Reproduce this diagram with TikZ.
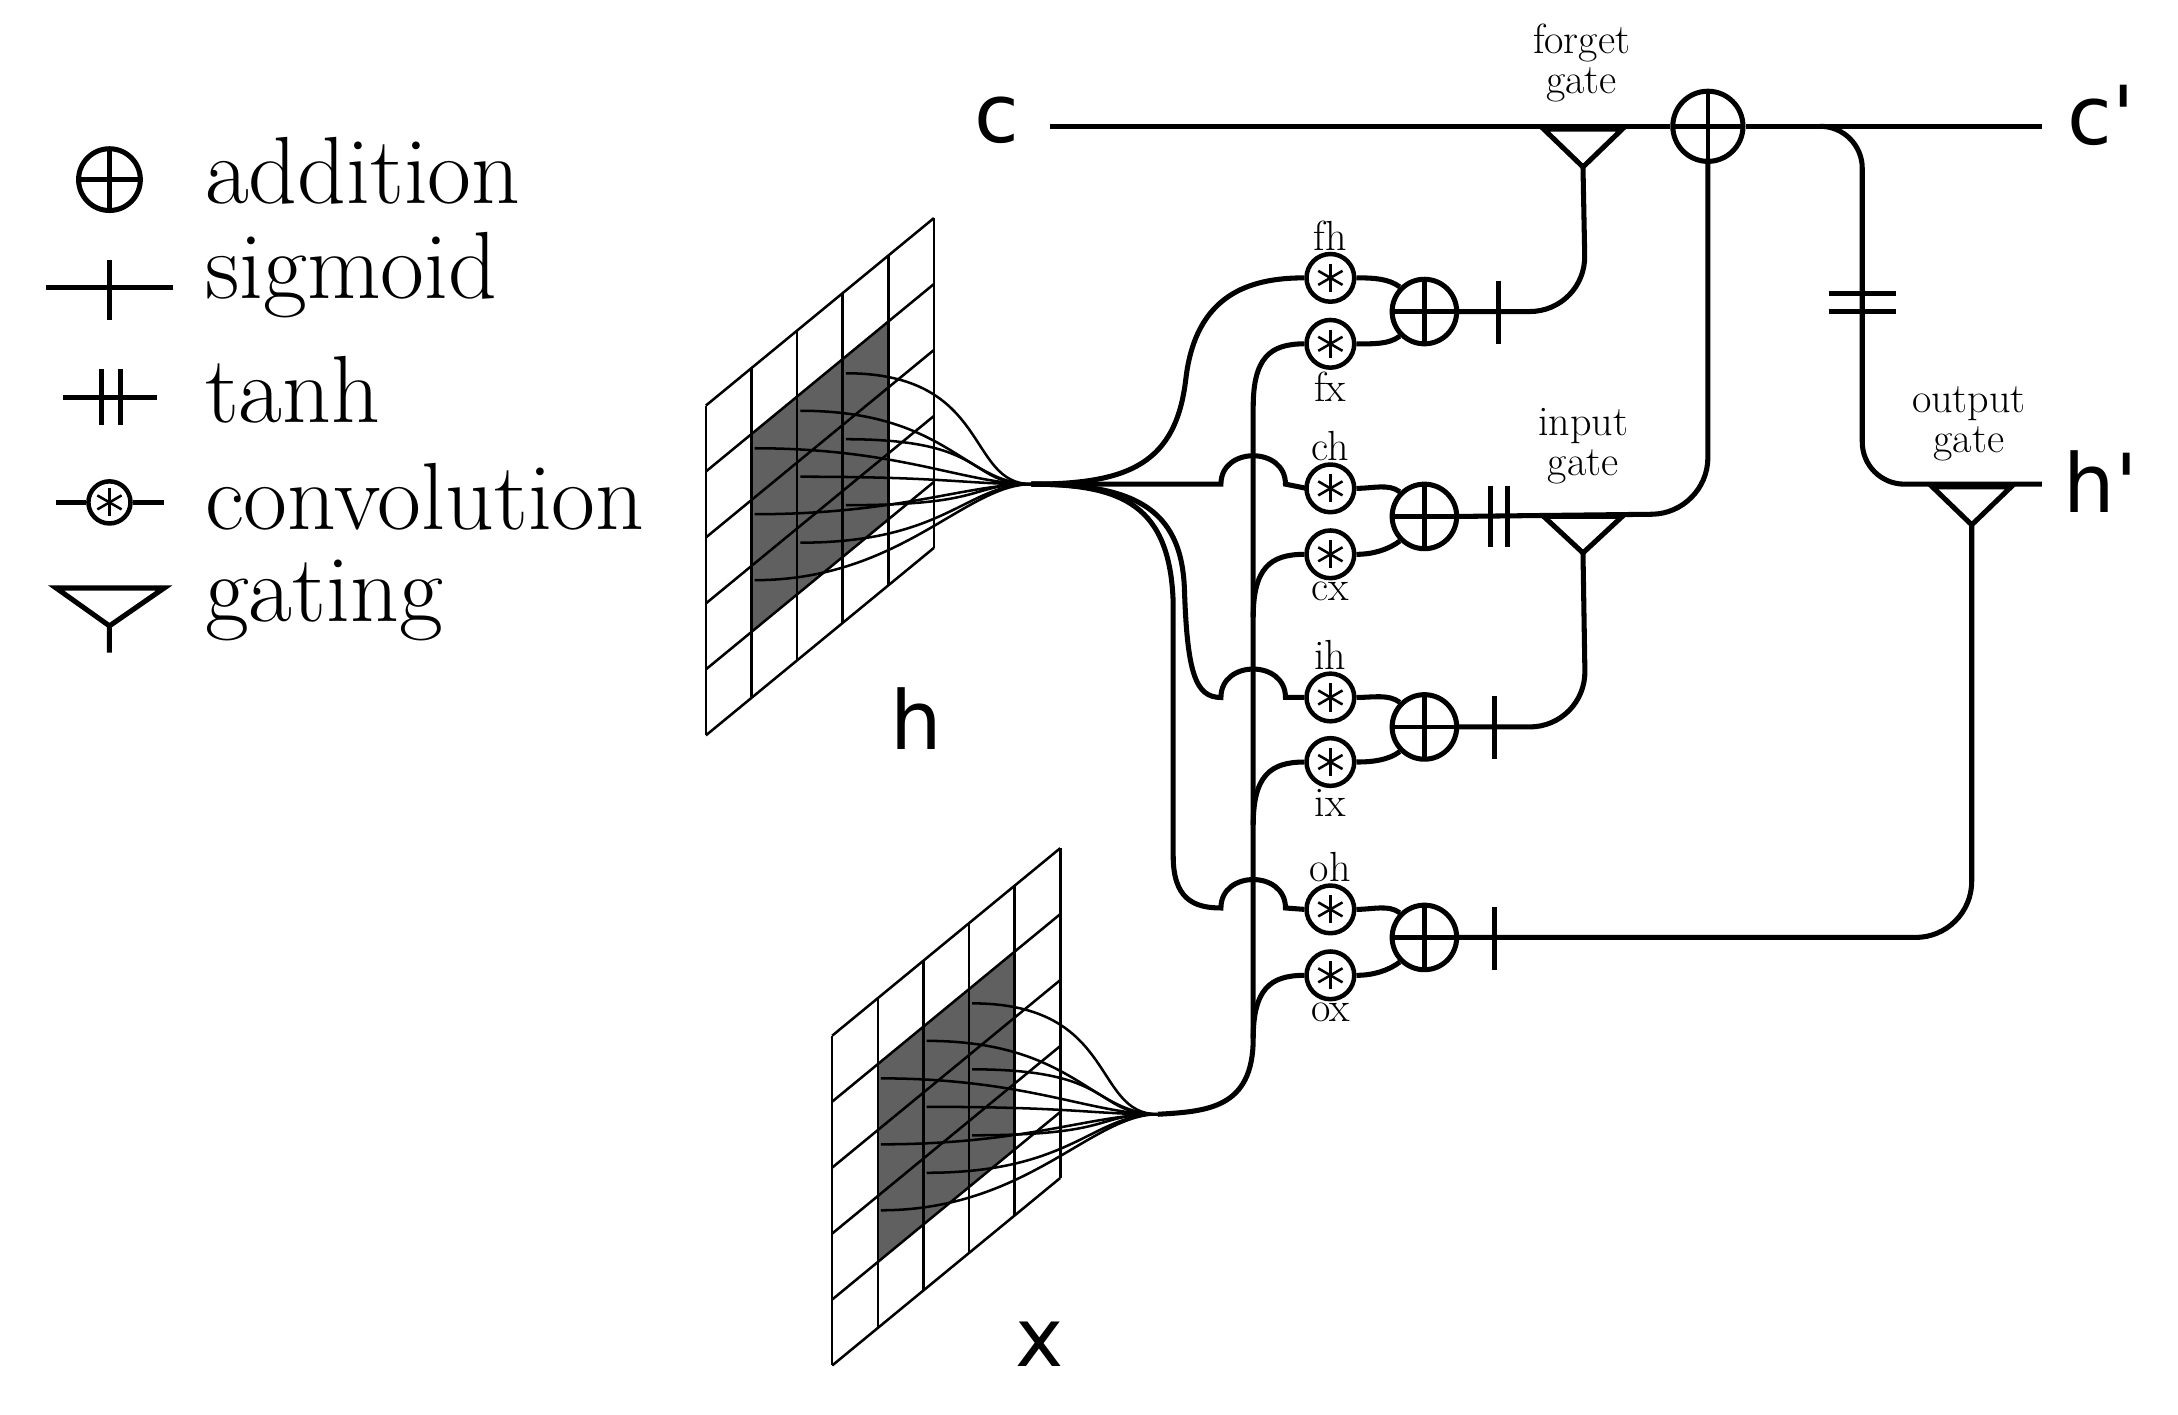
\documentclass[tikz,border=0pt]{standalone}
\usepackage{fontspec}
\newfontfamily\sansf{DejaVu Sans}
\begin{document}
\begin{tikzpicture}[x=1pt,y=-1pt,
  wire/.style={line width=3.6pt},
  thin/.style={line width=1.8pt},
  addn/.style={circle,draw,line width=3.6pt,minimum size=46pt,inner sep=0pt,
    path picture={\draw[line width=3.4pt] (path picture bounding box.north)--(path picture bounding box.south)
      (path picture bounding box.west)--(path picture bounding box.east);}},
  bigadd/.style={addn,minimum size=50pt},
  conv/.style={circle,draw,line width=3.2pt,minimum size=34pt,inner sep=0pt,
    path picture={\foreach \a in {90,30,-30}{\draw[line width=1.8pt] ([shift={(\a:10pt)}]path picture bounding box.center)--([shift={(\a+180:10pt)}]path picture bounding box.center);}}},
  lbl/.style={font=\fontsize{30}{31}\selectfont,inner sep=1pt,align=center},
  big/.style={font=\sansf\fontsize{58}{60}\selectfont,inner sep=0pt},
  leg/.style={font=\fontsize{68}{70}\selectfont,inner sep=0pt,anchor=west},
  sig/.style={line width=3.6pt}]
\useasboundingbox (0,0) rectangle (1552,1008);

% ---------- legend ----------
\node[addn,minimum size=44pt] (la) at (78,128) {};
\node[leg] (lta) at (146,122) {addition};
\draw[wire] (33,205)--(123,205) (78,185)--(78,228);
\node[leg] (lts) at (146,196) {sigmoid};
\draw[wire] (45,283)--(112,283) (72,263)--(72,303) (86,263)--(86,303);
\node[leg] (ltt) at (146,278) {tanh};
\node[conv,minimum size=30pt] (lc) at (78,358) {};
\draw[wire] (40,358)--(lc) (lc)--(117,358);
\node[leg] (ltc) at (146,354) {convolution};
\draw[wire] (40,419)--(117,419)--(78,446)--cycle (78,446)--(78,465);
\node[leg] (ltg) at (146,428) {gating};

% ---------- grids ----------
\foreach \gx/\gy/\cn in {503/289/hc, 593/738/xc}{
 \begin{scope}[shift={(\gx,\gy)}]
  \fill[gray!75!black] (32.5,47-26.7)--(130,47-106.9)--(130,188-106.9)--(32.5,188-26.7)--cycle;
  \foreach \k in {0,...,5}{
    \draw[thin] (32.5*\k,-26.72*\k)--(32.5*\k,235-26.72*\k);}
  \foreach \j in {0,...,5}{
    \draw[thin] (0,47*\j)--(162.5,47*\j-133.6);}
  \coordinate (\cn) at (232,56);
  \foreach \c in {1.5,2.5,3.5}{
   \foreach \r in {1.5,2.5,3.5}{
     \draw[thin] (32.5*\c-14,47*\r-26.72*\c) .. controls (32.5*\c+90,47*\r-26.72*\c) and (185,56) .. (\cn);}}
 \end{scope}}
\node[big] (hl) at (653,512) {h};
\node[big] (xl) at (741,958) {x};

% ---------- top line ----------
\node[big] (cl) at (710,86) {c};
\node[big] (cpl) at (1497,82) {c'};
\node[big] (hpl) at (1497,343) {h'};
\coordinate (cs) at (748,90);
\coordinate (ce) at (1455,90);
\node[bigadd] (A) at (1217,90) {};
\draw[wire] (cs)--(A) (A)--(ce);
\draw[wire] (1100,92)--(1156,92)--(1128,119)--cycle;
\coordinate (fg) at (1128,119);
\node[lbl] (fgl) at (1127,45) {forget\\[-2pt]gate};

% ---------- convolutions ----------
\foreach \n/\y/\t/\p in {fh/198/fh/above, fx/245/fx/below, ch/348/ch/above, cx/395/cx/below,
                      ih/497/ih/above, ix/543/ix/below, oh/648/oh/above, ox/695/ox/below}{
  \node[conv,label={[lbl]\p:\t}] (\n) at (948,\y) {};}
\foreach \n/\y in {af/222, ac/368, ai/518, ao/668}{\node[addn] (\n) at (1015,\y) {};}
\foreach \a/\b/\s in {fh/fx/af, ch/cx/ac, ih/ix/ai, oh/ox/ao}{
  \draw[wire] (\a.east) .. controls +(12,0) and +(-8,-6) .. (\s.north west);
  \draw[wire] (\b.east) .. controls +(12,0) and +(-8,6) .. (\s.south west);}

% ---------- h routes ----------
\draw[wire] (hc) .. controls (805,345) and (838,330) .. (845,270) .. controls (852,210) and (890,198) .. (fh.west);
\draw[wire] (hc) -- (870,345) .. controls (870,318) and (916,318) .. (916,345) -- (931,348) -- (ch.west);
\draw[wire] (hc) .. controls (805,345) and (842,360) .. (844,420) .. controls (846,480) and (852,497) .. (870,497)
   .. controls (870,470) and (916,470) .. (916,497) -- (ih.west);
\draw[wire] (hc) .. controls (800,345) and (834,360) .. (836,430) -- (836,610) .. controls (836,640) and (850,647) .. (870,647)
   .. controls (870,620) and (916,620) .. (916,647) -- (oh.west);

% ---------- x routes ----------
\draw[wire] (xc) .. controls (860,792) and (893,790) .. (893,740) -- (893,290) .. controls (893,255) and (905,245) .. (fx.west);
\draw[wire] (893,440) .. controls (893,405) and (905,395) .. (cx.west);
\draw[wire] (893,588) .. controls (893,553) and (905,543) .. (ix.west);
\draw[wire] (893,740) .. controls (893,705) and (905,695) .. (ox.west);

% ---------- gates ----------
\draw[wire,rounded corners=40pt] (af.east) -- (1130,222) -- (fg);
\draw[sig] (1068,200)--(1068,245);
\coordinate (ig) at (1128,394);
\draw[wire] (1100,368)--(1156,368)--(ig)--cycle;
\draw[wire,rounded corners=40pt] (ac.east) -- (1217,366) -- (A.south);
\draw[sig] (1062,346)--(1062,390) (1074,346)--(1074,390);
\node[lbl] (igl) at (1128,318) {input\\[-2pt]gate};
\draw[wire,rounded corners=40pt] (ai.east) -- (1130,518) -- (ig);
\draw[sig] (1065,496)--(1065,541);
\coordinate (og) at (1405,374);
\draw[wire] (1377,347)--(1433,347)--(og)--cycle;
\coordinate (br) at (1300,90);
\coordinate (he) at (1455,345);
\draw[wire,rounded corners=30pt] (br) -- (1327,90) -- (1327,345) -- (he);
\draw[sig] (1303,209)--(1351,209) (1303,222)--(1351,222);
\node[lbl] (ogl) at (1403,302) {output\\[-2pt]gate};
\draw[wire,rounded corners=40pt] (ao.east) -- (1405,668) -- (og);
\draw[sig] (1065,646)--(1065,691);
\end{tikzpicture}
\end{document}
